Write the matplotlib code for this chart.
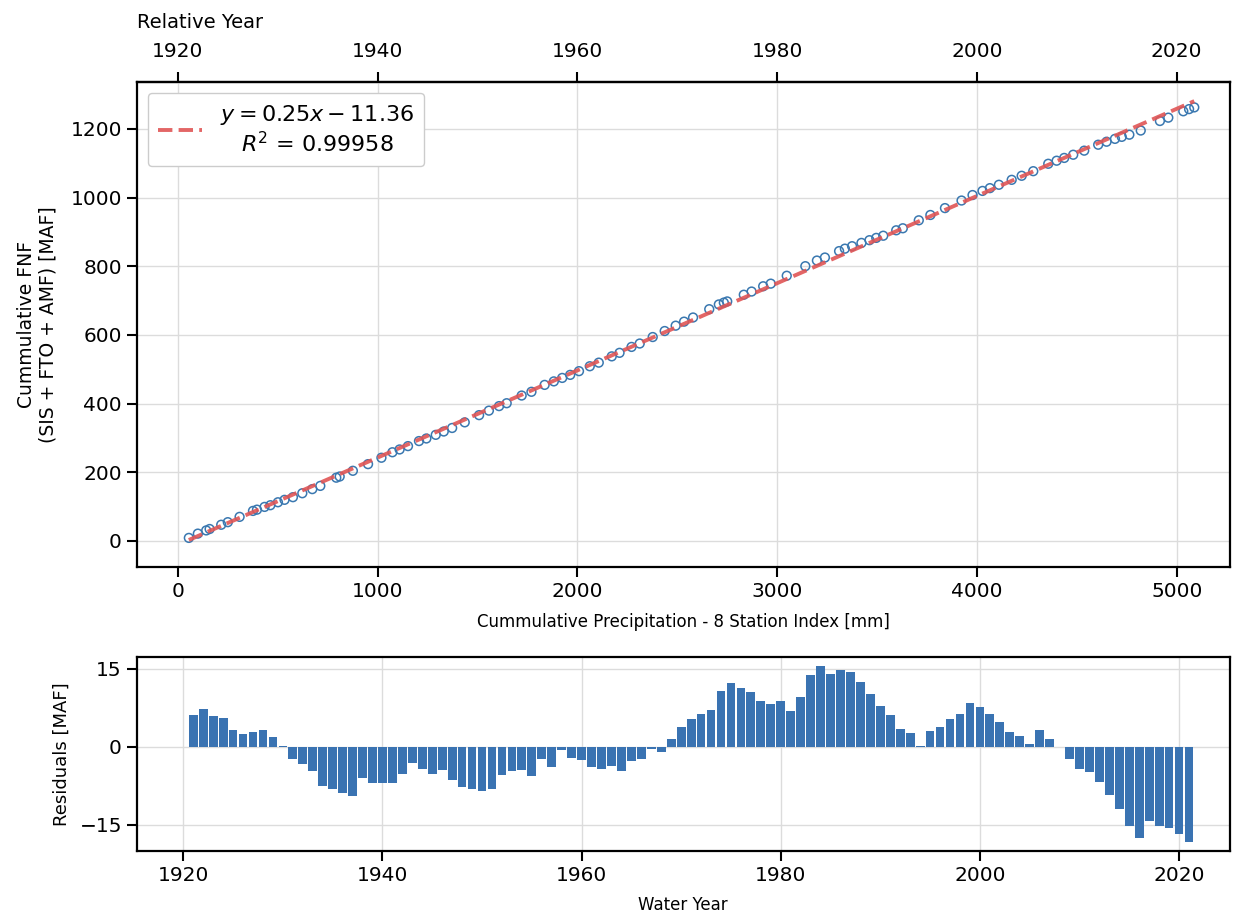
import matplotlib.pyplot as plt
import numpy as np

# water years 1921-2021
years = np.arange(1921, 2022)

# cumulative 8-station index precipitation [mm]
cum_precip = [55, 100, 142, 159, 217, 250, 309, 376, 396, 434,
              463, 501, 534, 576, 623, 673, 713, 793, 810, 876,
              952, 1019, 1074, 1110, 1152, 1207, 1244, 1291, 1331, 1373,
              1436, 1508, 1557, 1608, 1646, 1721, 1770, 1836, 1882, 1924,
              1964, 2008, 2062, 2107, 2172, 2211, 2271, 2312, 2377, 2437,
              2492, 2534, 2579, 2660, 2708, 2733, 2750, 2833, 2872, 2930,
              2968, 3048, 3141, 3199, 3239, 3310, 3339, 3375, 3422, 3462,
              3496, 3531, 3596, 3629, 3709, 3767, 3840, 3923, 3978, 4028,
              4065, 4110, 4174, 4224, 4282, 4357, 4399, 4437, 4482, 4537,
              4607, 4649, 4691, 4725, 4763, 4820, 4916, 4958, 5033, 5062,
              5088]

# cumulative full natural flow [MAF]
cum_fnf = [8.7, 21.2, 30.5, 34.6, 47.0, 54.5, 70.0, 87.3, 91.0, 99.0,
           103.9, 112.5, 119.6, 127.3, 138.8, 150.8, 160.2, 184.1, 187.5, 204.2,
           223.6, 242.2, 258.2, 266.3, 276.1, 290.8, 298.3, 308.9, 318.6, 328.9,
           345.3, 366.3, 379.4, 392.6, 401.0, 423.4, 434.3, 454.4, 464.6, 474.7,
           483.6, 494.4, 508.7, 519.2, 537.5, 547.8, 565.0, 574.9, 593.8, 611.3,
           626.9, 638.6, 650.7, 674.9, 688.7, 694.1, 697.5, 717.0, 726.3, 741.7,
           749.3, 772.3, 800.2, 816.6, 825.4, 844.1, 851.2, 858.4, 868.0, 875.9,
           882.6, 888.9, 904.7, 910.6, 933.8, 949.3, 969.4, 991.4, 1007.4, 1019.4,
           1027.5, 1037.3, 1051.7, 1063.5, 1076.9, 1098.5, 1107.4, 1115.5, 1124.8, 1136.7,
           1154.0, 1162.7, 1171.0, 1176.9, 1183.2, 1195.3, 1223.1, 1232.8, 1251.4, 1257.7,
           1262.7]

# residuals from the fit [MAF]
residuals = [6.1, 7.2, 5.8, 5.6, 3.2, 2.4, 2.9, 3.2, 1.8, 0.1,
             -2.3, -3.4, -4.7, -7.6, -8.1, -8.8, -9.5, -6.0, -6.9, -6.9,
             -6.9, -5.3, -3.2, -4.3, -5.2, -4.4, -6.3, -7.7, -8.1, -8.5,
             -8.1, -5.4, -4.7, -4.5, -5.7, -2.4, -3.9, -0.6, -2.1, -2.6,
             -3.9, -4.3, -3.7, -4.6, -2.8, -2.4, -0.5, -1.0, 1.4, 3.7,
             5.3, 6.3, 7.0, 10.6, 12.2, 11.3, 10.4, 8.8, 8.2, 8.8,
             6.8, 9.5, 13.7, 15.4, 14.0, 14.7, 14.4, 12.5, 10.2, 7.9,
             6.0, 3.4, 2.7, 0.2, 3.1, 3.8, 5.4, 6.3, 8.3, 7.6,
             6.3, 4.7, 2.9, 2.0, 0.6, 3.2, 1.4, -0.1, -2.3, -4.3,
             -4.8, -6.8, -9.2, -11.9, -15.2, -17.6, -14.2, -15.2, -15.6, -16.7,
             -18.3]

fit_slope = 0.254
fit_intercept = -11.36
r_squared = 0.99958

tick_size = 14.5
ylabel_size = 13.5
xlabel_size = 12
grid_color = "#dcdcdc"

fig = plt.figure(figsize=(12.41, 9.17), dpi=100)
ax = fig.add_axes([0.110, 0.3817, 0.881, 0.529])
ax2 = fig.add_axes([0.110, 0.0720, 0.881, 0.2115])

# top panel
x_fit = np.array([min(cum_precip), max(cum_precip)])
ax.plot(x_fit, fit_slope * x_fit + fit_intercept, linestyle="--", color="#e05555",
        linewidth=2.8, alpha=0.9,
        label="$y = %.2fx %s %.2f$\n$R^2$ = %.5f" % (fit_slope, "-" if fit_intercept < 0 else "+",
                                                     abs(fit_intercept), r_squared), zorder=3)
ax.scatter(cum_precip, cum_fnf, s=40, facecolors="none", edgecolors="#3a78b0",
           linewidths=1.1, zorder=2)

ax.set_xlim(-207, 5266)
ax.set_ylim(-76, 1337)
ax.set_xticks([0, 1000, 2000, 3000, 4000, 5000])
ax.set_yticks([0, 200, 400, 600, 800, 1000, 1200])
ax.grid(True, color=grid_color, linewidth=1)
ax.set_axisbelow(True)
ax.set_xlabel("Cummulative Precipitation - 8 Station Index [mm]", fontsize=xlabel_size, labelpad=9)
ax.set_ylabel("Cummulative FNF\n(SIS + FTO + AMF) [MAF]", fontsize=ylabel_size, labelpad=9)
ax.tick_params(labelsize=tick_size, direction="out", length=7, width=1.5)

leg = ax.legend(loc="upper left", fontsize=16, framealpha=1, edgecolor="#cccccc",
                handlelength=2.0, borderpad=0.45)
for t in leg.get_texts():
    t.set_multialignment("center")

top = ax.secondary_xaxis("top", functions=(lambda x: 1920 + x / 50.0, lambda y: (y - 1920) * 50.0))
top.set_xticks([1920, 1940, 1960, 1980, 2000, 2020])
top.tick_params(labelsize=tick_size, direction="out", length=7, width=1.5, pad=8)
top.set_xlabel("Relative Year", fontsize=14, loc="left", labelpad=10)

# bottom panel
ax2.bar(years, residuals, width=0.88, color="#3a73b2", zorder=2)
ax2.set_xlim(1915.3, 2025.1)
ax2.set_ylim(-20, 17.2)
ax2.set_yticks([-15, 0, 15])
ax2.set_xticks([1920, 1940, 1960, 1980, 2000, 2020])
ax2.grid(True, color=grid_color, linewidth=1)
ax2.set_axisbelow(True)
ax2.set_xlabel("Water Year", fontsize=xlabel_size, labelpad=8)
ax2.set_ylabel("Residuals [MAF]", fontsize=13, labelpad=6)
ax2.tick_params(labelsize=tick_size, direction="out", length=7, width=1.5)

for a in (ax, ax2):
    for sp in a.spines.values():
        sp.set_linewidth(1.6)
        sp.set_color("black")
top.spines["top"].set_linewidth(1.6)

fig.savefig("out.png", dpi=100)
